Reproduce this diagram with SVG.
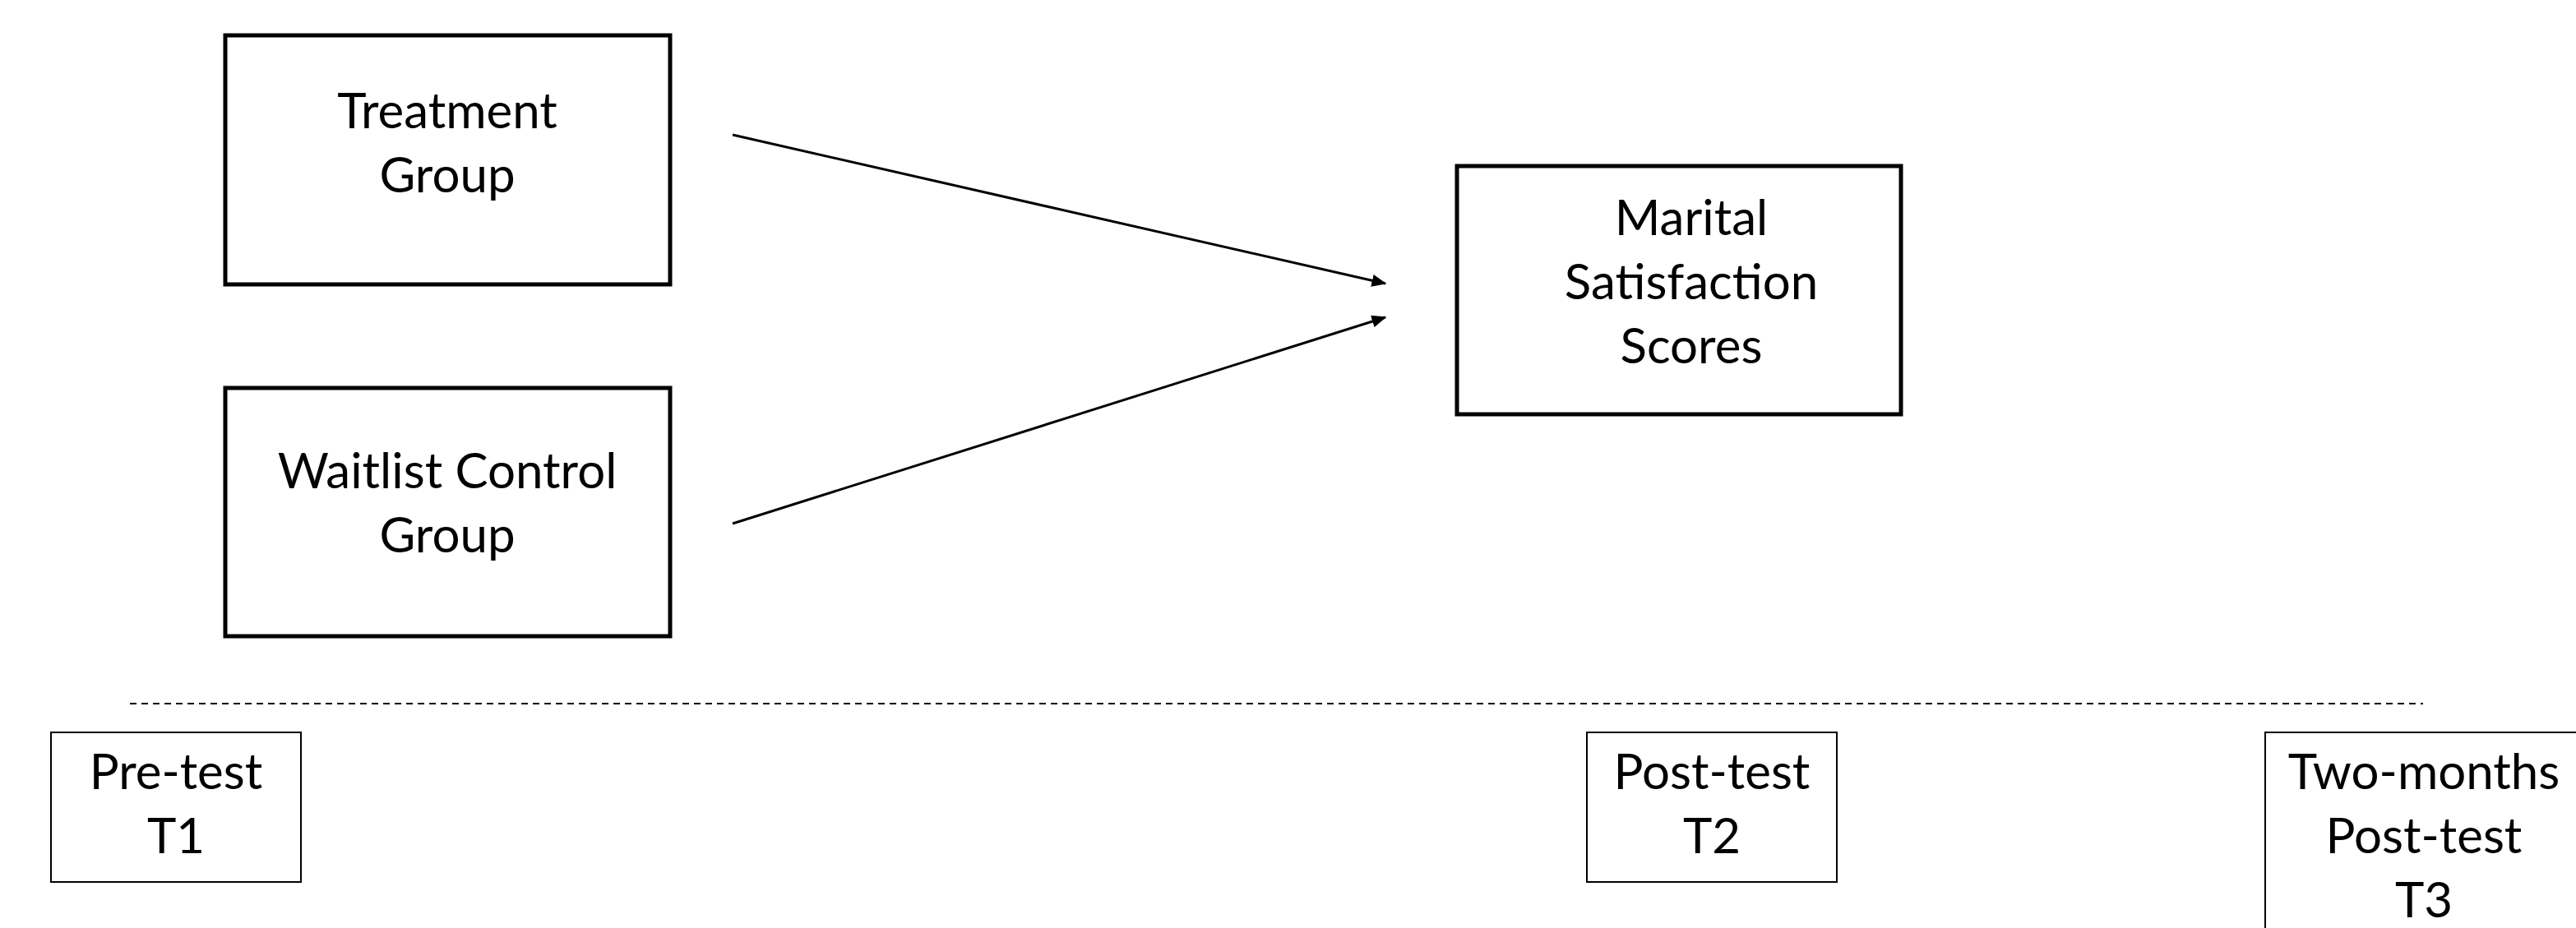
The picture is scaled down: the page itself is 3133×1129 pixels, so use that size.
<svg xmlns="http://www.w3.org/2000/svg" width="3133" height="1129" viewBox="0 0 3133 1129">
<style>
.bold{fill:#fff;stroke:#000;stroke-width:5}
.thin{fill:#fff;stroke:#000;stroke-width:2}
text{font-family:Lato,"Liberation Sans",sans-serif;font-size:60px;fill:#000;text-anchor:middle}
.conn{stroke:#000;stroke-width:3;fill:none}
</style>
<defs>
<marker id="arr" markerWidth="6" markerHeight="5" refX="5.5" refY="2.5" orient="auto" markerUnits="strokeWidth">
<path d="M0,0 L6,2.5 L0,5 Z" fill="#000"/>
</marker>
</defs>
<rect width="3133" height="1129" fill="#fff"/>
<g id="treatment">
<rect class="bold" x="274" y="43" width="541" height="303"/>
<text x="544" y="156">Treatment</text>
<text x="544" y="234">Group</text>
</g>
<g id="waitlist">
<rect class="bold" x="274" y="472" width="541" height="302"/>
<text x="544" y="594">Waitlist Control</text>
<text x="544" y="672">Group</text>
</g>
<g id="marital">
<rect class="bold" x="1772" y="202" width="540" height="302"/>
<text x="2057" y="286">Marital</text>
<text x="2057" y="364">Satisfaction</text>
<text x="2057" y="442">Scores</text>
</g>
<g id="connectors">
<line class="conn" x1="891" y1="164" x2="1685" y2="345" marker-end="url(#arr)"/>
<line class="conn" x1="891" y1="637" x2="1685" y2="386" marker-end="url(#arr)"/>
<line x1="158" y1="856" x2="2947" y2="856" stroke="#000" stroke-width="2" stroke-dasharray="8 6"/>
</g>
<g id="pretest">
<rect class="thin" x="62" y="891" width="304" height="182"/>
<text x="214" y="960">Pre-test</text>
<text x="214" y="1038">T1</text>
</g>
<g id="posttest">
<rect class="thin" x="1930" y="891" width="304" height="182"/>
<text x="2082" y="960">Post-test</text>
<text x="2082" y="1038">T2</text>
</g>
<g id="twomonths">
<rect class="thin" x="2755" y="891" width="400" height="260"/>
<text x="2948" y="960">Two-months</text>
<text x="2948" y="1038">Post-test</text>
<text x="2948" y="1116">T3</text>
</g>
</svg>
